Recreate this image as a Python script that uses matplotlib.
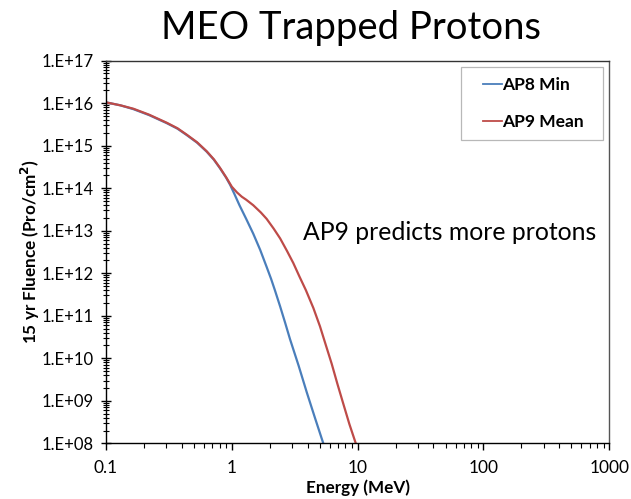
import matplotlib
matplotlib.use("Agg")
import matplotlib.pyplot as plt
from matplotlib.ticker import LogLocator, FixedLocator, NullFormatter
from matplotlib.patches import Rectangle
import numpy as np

plt.rcParams['font.family'] = ['Lato', 'DejaVu Sans']

# Data (energy in MeV, log10 of 15-yr fluence)
ap8_energy = [0.1, 0.13, 0.165, 0.22, 0.304, 0.37, 0.438, 0.53, 0.631, 0.72, 0.805, 0.9, 0.969,
              1.05, 1.15, 1.3, 1.48, 1.68, 1.89, 2.05, 2.2, 2.42, 2.65, 2.9, 3.4, 3.94, 4.6, 5.33]
ap8_logflu = [16.02, 15.95, 15.86, 15.72, 15.53, 15.4, 15.25, 15.07, 14.86, 14.67, 14.47, 14.25, 14.08,
              13.86, 13.6, 13.28, 12.93, 12.55, 12.15, 11.87, 11.6, 11.22, 10.84, 10.45, 9.82, 9.2, 8.58, 8.0]
ap9_energy = [0.1, 0.13, 0.165, 0.22, 0.304, 0.37, 0.438, 0.53, 0.631, 0.72, 0.805, 0.9, 1.0,
              1.1, 1.2, 1.3, 1.48, 1.7, 1.89, 2.15, 2.42, 2.75, 3.08, 3.45, 3.88, 4.45, 5.02, 5.6,
              6.22, 6.9, 7.69, 8.6, 9.66]
ap9_logflu = [16.02, 15.95, 15.87, 15.73, 15.54, 15.41, 15.26, 15.08, 14.87, 14.68, 14.48, 14.26, 14.035,
              13.9, 13.8, 13.73, 13.6, 13.43, 13.28, 13.05, 12.82, 12.52, 12.24, 11.92, 11.6, 11.18, 10.75, 10.3,
              9.87, 9.4, 8.93, 8.45, 8.0]

ytick_vals = [1e8, 1e9, 1e10, 1e11, 1e12, 1e13, 1e14, 1e15, 1e16, 1e17]
ytick_labels = ["1.E+08", "1.E+09", "1.E+10", "1.E+11", "1.E+12", "1.E+13", "1.E+14", "1.E+15", "1.E+16", "1.E+17"]
xtick_vals = [0.1, 1, 10, 100, 1000]
xtick_labels = ["0.1", "1", "10", "100", "1000"]

blue = "#4a7ebb"
red = "#be4b48"

fig = plt.figure(figsize=(6.31, 4.99), dpi=100)
ax = fig.add_axes([0.168, 0.1116, 0.7976, 0.7668])

ax.plot(ap8_energy, 10 ** np.array(ap8_logflu), color=blue, lw=1.6,
        label="AP8 Min", solid_joinstyle='round')
ax.plot(ap9_energy, 10 ** np.array(ap9_logflu), color=red, lw=1.6,
        label="AP9 Mean", solid_joinstyle='round')

ax.set_xscale("log")
ax.set_yscale("log")
ax.set_xlim(0.1, 1000)
ax.set_ylim(1e8, 1e17)

ax.yaxis.set_major_locator(FixedLocator(ytick_vals))
ax.set_yticklabels(ytick_labels, fontsize=12)
ax.yaxis.set_minor_locator(LogLocator(base=10, subs=np.arange(2, 10), numticks=50))
ax.yaxis.set_minor_formatter(NullFormatter())
ax.xaxis.set_major_locator(FixedLocator(xtick_vals))
ax.set_xticklabels(xtick_labels, fontsize=12.5)
ax.xaxis.set_minor_locator(LogLocator(base=10, subs=np.arange(2, 10), numticks=50))
ax.xaxis.set_minor_formatter(NullFormatter())

ax.tick_params(axis='y', which='major', direction='inout', length=7, width=1, pad=5)
ax.tick_params(axis='y', which='minor', direction='inout', length=4, width=0.8)
ax.tick_params(axis='x', which='major', direction='out', length=5, width=1, pad=7)
ax.tick_params(axis='x', which='minor', direction='out', length=3.5, width=0.8)

for s in ax.spines.values():
    s.set_linewidth(1.0)
    s.set_color("black")
ax.spines['right'].set_color("#555555")
ax.spines['top'].set_color("#333333")

ax.set_xlabel("Energy (MeV)", fontsize=12.3, fontweight='bold')
ax.set_ylabel("15 yr Fluence (Pro/cm$^\\mathbf{2}$)", fontsize=12.3, fontweight='bold')
ax.xaxis.set_label_coords(0.5007, -0.117)
ax.yaxis.set_label_coords(-0.151, 0.5)
ax.xaxis.label.set_va('center')
ax.yaxis.label.set_va('center')

# legend frame
ax.add_patch(Rectangle((0.7048, 0.7927), 0.2821, 0.19, transform=ax.transAxes,
                       facecolor='white', edgecolor='#b8b8b8', lw=0.9, zorder=5))
leg = ax.legend(loc='upper left', bbox_to_anchor=(0.7496, 0.958),
                prop={'weight': 'bold', 'size': 12.5}, frameon=False,
                handlelength=1.05, handletextpad=0.05, labelspacing=1.25,
                borderpad=0.0, borderaxespad=0.0)
leg.set_zorder(6)
for line in leg.get_lines():
    line.set_linewidth(1.3)

fig.text(0.556, 0.944, "MEO Trapped Protons", ha='center', va='center', fontsize=27.5)
ax.text(0.391, 0.552, "AP9 predicts more protons", transform=ax.transAxes,
        ha='left', va='center', fontsize=17.8)

fig.savefig("out.png", dpi=100)
